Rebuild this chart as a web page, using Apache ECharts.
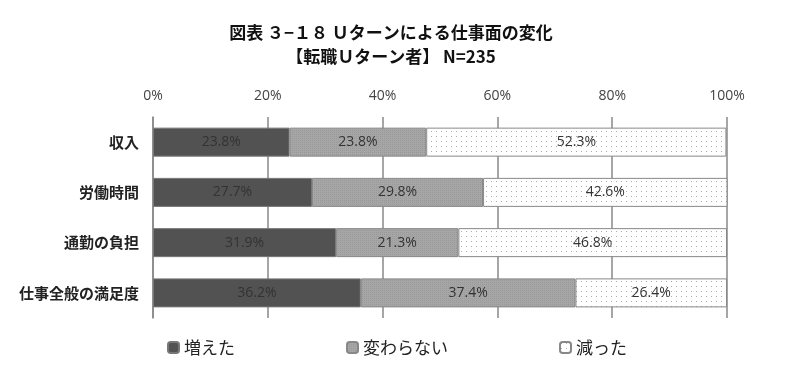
<!DOCTYPE html>
<html><head><meta charset="utf-8">
<script src="https://cdn.jsdelivr.net/npm/echarts@6/dist/echarts.min.js"></script>
<style>html,body{margin:0;padding:0;background:#fff}#c{width:800px;height:379px}</style>
</head><body><div id="c"></div>
<script>
const categories = ['収入', '労働時間', '通勤の負担', '仕事全般の満足度'];
const increased = [23.8, 27.7, 31.9, 36.2];
const unchanged = [23.8, 29.8, 21.3, 37.4];
const decreased = [52.3, 42.6, 46.8, 26.4];
const seriesNames = ['増えた', '変わらない', '減った'];
const xTicks = [0, 20, 40, 60, 80, 100];

function dotPattern() {
  const c = document.createElement('canvas');
  c.width = 5; c.height = 5;
  const g = c.getContext('2d');
  g.fillStyle = '#ffffff'; g.fillRect(0, 0, 5, 5);
  g.fillStyle = '#aaaaaa'; g.fillRect(1, 1, 1, 1);
  return c;
}
function grayPattern() {
  const c = document.createElement('canvas');
  c.width = 2; c.height = 2;
  const g = c.getContext('2d');
  g.fillStyle = '#a6a6a6'; g.fillRect(0, 0, 2, 2);
  g.fillStyle = '#999999'; g.fillRect(0, 0, 1, 1);
  return c;
}
const dots = dotPattern();
const grayp = grayPattern();

const chart = echarts.init(document.getElementById('c'), null, { renderer: 'canvas' });
const JP = '"Noto Sans CJK JP", sans-serif';
const NUM = '"Open Sans", "Noto Sans", sans-serif';
const labelStyle = { show: true, position: 'inside', formatter: p => p.value.toFixed(1) + '%', color: '#333', fontSize: 14, fontFamily: NUM };
const common = { type: 'bar', stack: 'a', barWidth: 29, label: labelStyle };
chart.setOption({
  animation: false,
  title: {
    text: '図表 ３−１８ Ｕターンによる仕事面の変化\n【転職Ｕターン者】 N=235',
    left: 386, textAlign: 'center', top: 16,
    textStyle: { fontFamily: JP, fontSize: 17, fontWeight: 'bold', color: '#111', lineHeight: 24 }
  },
  grid: { left: 153, right: 73, top: 117, bottom: 61 },
  legend: {
    data: seriesNames, top: 334, left: 162, itemGap: 111, itemWidth: 11, itemHeight: 11,
    textStyle: { fontFamily: JP, fontSize: 17, color: '#222' }
  },
  xAxis: {
    type: 'value', position: 'top', min: 0, max: 100, interval: 20,
    axisLabel: { formatter: v => v + '%', color: '#444', fontSize: 14, fontFamily: NUM, margin: 14 },
    splitLine: { show: true, lineStyle: { color: '#888', width: 1.5 } },
    axisLine: { show: false }, axisTick: { show: false }
  },
  yAxis: {
    type: 'category', data: categories, inverse: true,
    axisLine: { show: true, lineStyle: { color: '#888', width: 1.5 } },
    axisTick: { show: false },
    axisLabel: { color: '#222', fontSize: 15, fontFamily: JP, fontWeight: 'bold', margin: 14 }
  },
  series: [
    Object.assign({}, common, { name: seriesNames[0], data: increased, itemStyle: { color: '#525252', borderColor: '#777', borderWidth: 1 } }),
    Object.assign({}, common, { name: seriesNames[1], data: unchanged, itemStyle: { color: { image: grayp, repeat: 'repeat' }, borderColor: '#888', borderWidth: 1 } }),
    Object.assign({}, common, { name: seriesNames[2], data: decreased, itemStyle: { color: { image: dots, repeat: 'repeat' }, borderColor: '#888', borderWidth: 1 } })
  ]
});
</script></body></html>
